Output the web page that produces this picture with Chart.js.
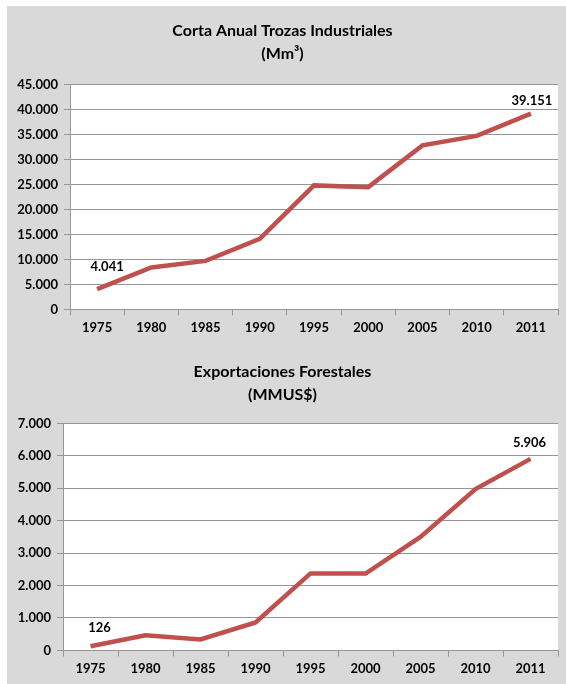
<!DOCTYPE html>
<html>
<head>
<meta charset="utf-8">
<script src="https://cdn.jsdelivr.net/npm/chart.js@4.4.1/dist/chart.umd.min.js"></script>
<style>
  html, body { margin: 0; padding: 0; background: #ffffff; }
  #frame { position: absolute; left: 7px; top: 6px; width: 559px; height: 678px; background: #d9d9d9; }
  canvas { position: absolute; left: 0; }
</style>
</head>
<body>
<div id="frame">
  <canvas id="corta" width="559" height="338" style="top:0"></canvas>
  <canvas id="export" width="559" height="340" style="top:338px"></canvas>
</div>
<script>
  "use strict";

  // years shared by both charts
  var years = ["1975", "1980", "1985", "1990", "1995", "2000", "2005", "2010", "2011"];

  // Corta anual trozas industriales (miles de m3)
  var cortaValues = [4041, 8400, 9700, 14100, 24800, 24450, 32800, 34700, 39151];
  var cortaTicks = [0, 5000, 10000, 15000, 20000, 25000, 30000, 35000, 40000, 45000];

  // Exportaciones forestales (MMUS$)
  var exportValues = [126, 465, 340, 860, 2375, 2370, 3500, 4975, 5906];
  var exportTicks = [0, 1000, 2000, 3000, 4000, 5000, 6000, 7000];

  var red = "#c0504d";
  var gridGrey = "#969696";
  var fontFamily = "Lato, 'Open Sans', sans-serif";

  // 45000 -> "45.000"
  function fmt(v) {
    return String(Math.round(v)).replace(/\B(?=(\d{3})+(?!\d))/g, ".");
  }

  // white plot area on the grey chart background
  var plotBg = {
    id: "plotBg",
    beforeDraw: function(chart) {
      var a = chart.chartArea;
      chart.ctx.save();
      chart.ctx.fillStyle = "#ffffff";
      chart.ctx.fillRect(a.left, a.top, a.right - a.left, a.bottom - a.top);
      chart.ctx.restore();
    }
  };

  // writes the value over the first and last point
  var endLabels = {
    id: "endLabels",
    afterDatasetsDraw: function(chart, args, opts) {
      var ctx = chart.ctx;
      var meta = chart.getDatasetMeta(0);
      var data = chart.data.datasets[0].data;
      ctx.save();
      ctx.font = "bold 13px " + fontFamily;
      ctx.fillStyle = "#000000";
      ctx.textAlign = "center";
      ctx.textBaseline = "middle";
      opts.points.forEach(function(p) {
        var el = meta.data[p.index];
        ctx.fillText(fmt(data[p.index]), el.x + p.dx, el.y + p.dy);
      });
      ctx.restore();
    }
  };

  function makeChart(id, titleLines, values, ticks, opts) {
    var yMax = ticks[ticks.length - 1];
    return new Chart(document.getElementById(id), {
      type: "line",
      data: {
        labels: years,
        datasets: [{
          data: values,
          borderColor: red,
          borderWidth: 4.5,
          pointRadius: 0,
          tension: 0,
          fill: false
        }]
      },
      options: {
        responsive: false,
        animation: false,
        layout: { padding: { left: 0, right: 8, top: 0, bottom: opts.bottomPad } },
        plugins: {
          legend: { display: false },
          tooltip: { enabled: false },
          title: {
            display: true,
            text: titleLines,
            color: "#000000",
            font: { family: fontFamily, size: 16, weight: "bold", lineHeight: 1.45 },
            padding: { top: opts.titleTop, bottom: opts.titleBottom }
          },
          endLabels: { points: opts.labels }
        },
        scales: {
          x: {
            offset: true,
            grid: { display: true, drawOnChartArea: false, offset: true, color: gridGrey, tickLength: 6 },
            border: { color: gridGrey, width: 1 },
            ticks: { color: "#000000", font: { family: fontFamily, size: 13, weight: "bold" }, padding: 5, maxRotation: 0 }
          },
          y: {
            min: 0,
            max: yMax,
            afterBuildTicks: function(axis) {
              axis.ticks = ticks.map(function(v) { return { value: v }; });
            },
            afterFit: function(axis) { axis.width = opts.axisWidth; },
            grid: { color: gridGrey, lineWidth: 1, tickLength: 6 },
            border: { color: gridGrey, width: 1 },
            ticks: {
              color: "#000000",
              font: { family: fontFamily, size: 13, weight: "bold" },
              padding: 6,
              callback: function(v) { return fmt(v); }
            }
          }
        }
      },
      plugins: [plotBg, endLabels]
    });
  }

  makeChart("corta", ["Corta Anual Trozas Industriales", "(Mm³)"], cortaValues, cortaTicks, {
    titleTop: 13, titleBottom: 19, axisWidth: 63, bottomPad: 3,
    labels: [{ index: 0, dx: 10, dy: -22 }, { index: 8, dx: 1, dy: -13 }]
  });

  makeChart("export", ["Exportaciones Forestales", "(MMUS$)"], exportValues, exportTicks, {
    titleTop: 16, titleBottom: 17, axisWidth: 56, bottomPad: 2,
    labels: [{ index: 0, dx: 9, dy: -19 }, { index: 8, dx: -1, dy: -16 }]
  });
</script>
</body>
</html>
